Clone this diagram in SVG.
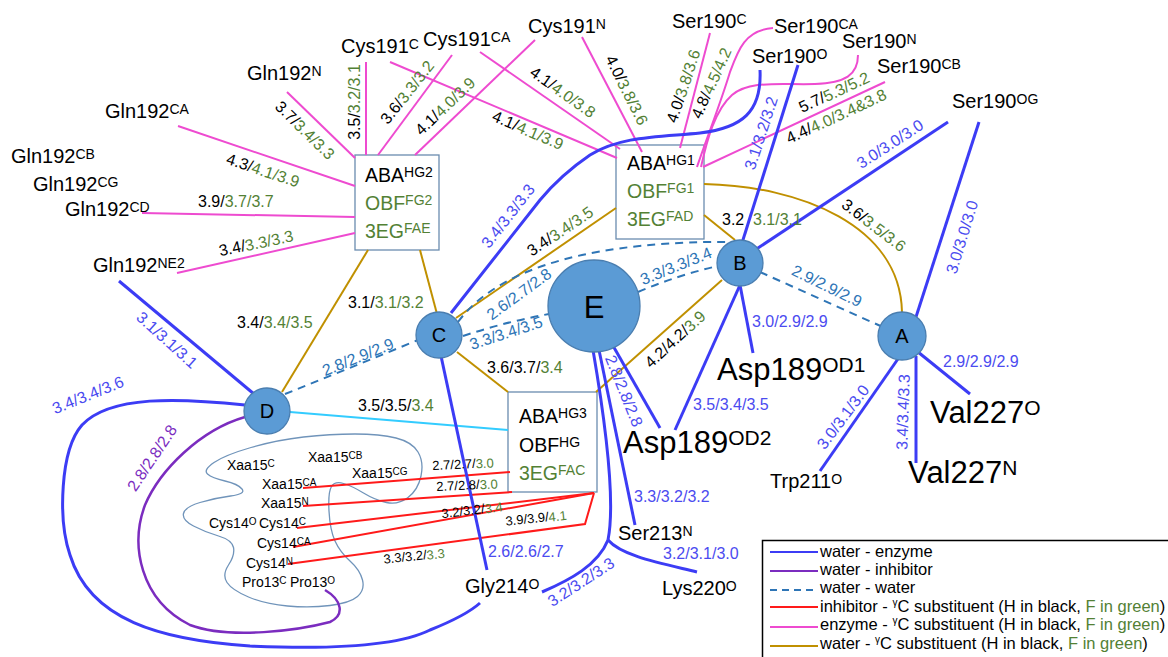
<svg xmlns="http://www.w3.org/2000/svg" width="1168" height="657" viewBox="0 0 1168 657">
<style>
text{font-family:"Liberation Sans",Arial,sans-serif;fill:#000}
.res{font-size:20px}
.big{font-size:31px}
.sm{font-size:14px}
.bx{font-size:19.5px}
.el{font-size:16px}
.es{font-size:13px}
.lg{font-size:16.5px}
.rc{text-anchor:middle;dominant-baseline:central}
.gr{fill:#538135}
.bt{fill:#4B4BF0}
.dt{fill:#2E75B6}
.pt{fill:#7B2CBF}
.m{stroke:#EE4BD0;stroke-width:2;fill:none}
.b{stroke:#3C3CF5;stroke-width:3;fill:none}
.p{stroke:#7B2CBF;stroke-width:2.5;fill:none}
.d{stroke:#2E75B6;stroke-width:2;stroke-dasharray:8 6;fill:none}
.g{stroke:#C09000;stroke-width:2;fill:none}
.cy{stroke:#33CCFF;stroke-width:2;fill:none}
.r{stroke:#FF1A1A;stroke-width:2;fill:none}
.blob{stroke:#7094BA;stroke-width:1.3;fill:none}
.box{fill:#fff;stroke:#6A8CAF;stroke-width:1.3}
.node{fill:#5B9BD5;stroke:#4A7EB0;stroke-width:1.3}
.nl{font-size:20px;text-anchor:middle}
</style>
<rect width="1168" height="657" fill="#fff"/>

<g id="blob">
<path class="blob" d="M207.5,474 Q203,470 214,462.5 Q225,455 251,447.5 Q277,440 303.5,437 Q330,434 355,434 Q380,434 396,438 Q412,442 418,452 Q424,462 421,476 Q418,490 408,497.5 Q398,505 386.5,502.5 Q375,500 363.5,493 Q352,486 343.5,483.5 Q335,481 331.5,486.5 Q328,492 329,511 Q330,530 335,541 Q340,552 350,561 Q360,570 362.5,580 Q365,590 357.5,596.5 Q350,603 330,605.5 Q310,608 287.5,606 Q265,604 248.5,597 Q232,590 227,582.5 Q222,575 228.5,565 Q235,555 233.5,547.5 Q232,540 218.5,536 Q205,532 193.5,526 Q182,520 183.5,513.5 Q185,507 200,502.5 Q215,498 230.5,496 Q246,494 242,489 Q238,484 225,481 Q212,478 207.5,474 Z"/>
</g>

<g id="box-HG2"><rect class="box" x="355" y="155" width="84" height="95"/>
<text class="bx" x="365" y="182">ABA<tspan font-size="14" dy="-5">HG2</tspan></text>
<text class="bx gr" x="365" y="210">OBF<tspan font-size="14" dy="-5">FG2</tspan></text>
<text class="bx gr" x="365" y="238">3EG<tspan font-size="14" dy="-5">FAE</tspan></text></g>
<g id="box-HG1"><rect class="box" x="616" y="145" width="88" height="94"/>
<text class="bx" x="627" y="170">ABA<tspan font-size="14" dy="-5">HG1</tspan></text>
<text class="bx gr" x="627" y="198">OBF<tspan font-size="14" dy="-5">FG1</tspan></text>
<text class="bx gr" x="627" y="226">3EG<tspan font-size="14" dy="-5">FAD</tspan></text></g>
<g id="box-HG3"><rect class="box" x="508" y="392" width="89" height="100"/>
<text class="bx" x="519" y="423">ABA<tspan font-size="14" dy="-5">HG3</tspan></text>
<text class="bx" x="519" y="452">OBF<tspan font-size="14" dy="-5">HG</tspan></text>
<text class="bx gr" x="519" y="480">3EG<tspan font-size="14" dy="-5">FAC</tspan></text></g>

<g id="connectors">
<line class="m" x1="178" y1="126" x2="355" y2="186"/>
<line class="m" x1="287" y1="92" x2="355" y2="158"/>
<line class="m" x1="366" y1="62" x2="366" y2="155"/>
<line class="m" x1="452" y1="55" x2="378" y2="155"/>
<line class="m" x1="535" y1="40" x2="415" y2="155"/>
<line class="m" x1="142" y1="213" x2="355" y2="217"/>
<line class="m" x1="177" y1="273" x2="355" y2="233"/>
<line class="m" x1="390" y1="62" x2="617" y2="158"/>
<line class="m" x1="480" y1="52" x2="620" y2="149"/>
<line class="m" x1="582" y1="37" x2="642" y2="152"/>
<line class="m" x1="710" y1="33" x2="680" y2="148"/>
<path class="m" d="M773,28 C745,30 738,50 730,72 C720,105 706,140 697,167"/>
<path class="m" d="M858,55 C858,75 845,83 815,84 C780,85 750,80 732,95 C715,110 707,140 701,167"/>
<line class="m" x1="885" y1="82" x2="703" y2="167"/>

<line class="g" x1="368" y1="250" x2="282" y2="392"/>
<line class="g" x1="420" y1="250" x2="437" y2="314"/>
<line class="g" x1="456" y1="318" x2="616" y2="208"/>
<line class="g" x1="704" y1="215" x2="735" y2="240"/>
<path class="g" d="M704,184 C800,186 900,225 902,312"/>
<line class="g" x1="457" y1="352" x2="508" y2="392"/>
<line class="g" x1="596" y1="392" x2="722" y2="280"/>

<line class="cy" x1="290" y1="412" x2="508" y2="430"/>

<line class="r" x1="303" y1="488" x2="510" y2="472"/>
<line class="r" x1="303" y1="506" x2="512" y2="492"/>
<line class="r" x1="297" y1="528" x2="594" y2="493"/>
<line class="r" x1="293" y1="547" x2="594" y2="493"/>
<polyline class="r" points="288,564 585,524 594,493"/>

<path class="d" d="M285,394 Q350,368 418,340"/>
<path class="d" d="M458,322 C500,265 600,240 740,242"/>
<path class="d" d="M463,336 Q505,322 549,314"/>
<path class="d" d="M638,292 Q678,275 718,266"/>
<line class="d" x1="760" y1="272" x2="885" y2="328"/>

<path class="p" d="M245,417 C200,430 160,470 145,505 C130,545 140,600 190,625 C230,640 300,630 330,622 C345,615 342,600 325,590"/>

<path class="b" d="M760,70 C762,112 742,128 700,133 C660,137 620,136 590,155 C565,172 550,188 540,200 L451,313"/>
<line class="b" x1="798" y1="65" x2="742" y2="243"/>
<line class="b" x1="948" y1="122" x2="755" y2="250"/>
<line class="b" x1="979" y1="122" x2="915" y2="320"/>
<line class="b" x1="740" y1="285" x2="753" y2="353"/>
<line class="b" x1="740" y1="285" x2="675" y2="430"/>
<line class="b" x1="900" y1="356" x2="820" y2="471"/>
<line class="b" x1="916" y1="356" x2="916" y2="463"/>
<line class="b" x1="918" y1="352" x2="970" y2="394"/>
<line class="b" x1="612" y1="344" x2="660" y2="428"/>
<line class="b" x1="599" y1="350" x2="635" y2="525"/>
<path class="b" d="M593,350 C605,420 616,500 608,540"/>
<path class="b" d="M608,540 C598,565 570,580 542,592"/>
<path class="b" d="M608,540 C622,556 660,563 697,572"/>
<line class="b" x1="441" y1="356" x2="487" y2="570"/>
<line class="b" x1="119" y1="281" x2="254" y2="394"/>
<path class="b" d="M245,405 C180,398 110,395 82,425 C60,450 58,520 70,555 C90,620 160,640 250,646 C340,650 400,645 430,630 C455,620 470,612 480,603"/>
</g>

<g id="edge-labels">
<text class="el rc" x="263" y="170" transform="rotate(18 263 170)">4.3/<tspan class="gr">4.1/3.9</tspan></text>
<text class="el rc" x="305" y="130" transform="rotate(44 305 130)">3.7/<tspan class="gr">3.4/3.3</tspan></text>
<text class="el rc" x="354" y="102" transform="rotate(-90 354 102)">3.5/<tspan class="gr">3.2/3.1</tspan></text>
<text class="el rc" x="407" y="92" transform="rotate(-52 407 92)">3.6/<tspan class="gr">3.3/3.2</tspan></text>
<text class="el rc" x="445" y="106" transform="rotate(-44 445 106)">4.1/<tspan class="gr">4.0/3.9</tspan></text>
<text class="el rc" x="528" y="130" transform="rotate(23 528 130)">4.1/<tspan class="gr">4.1/3.9</tspan></text>
<text class="el rc" x="563" y="92" transform="rotate(35 563 92)">4.1/<tspan class="gr">4.0/3.8</tspan></text>
<text class="el rc" x="627" y="90" transform="rotate(63 627 90)">4.0/<tspan class="gr">3.8/3.6</tspan></text>
<text class="el rc" x="683" y="86" transform="rotate(-72 683 86)">4.0/<tspan class="gr">3.8/3.6</tspan></text>
<text class="el rc" x="711" y="83" transform="rotate(-66 711 83)">4.8/<tspan class="gr">4.5/4.2</tspan></text>
<text class="el rc" x="834" y="92" transform="rotate(-25 834 92)">5.7/<tspan class="gr">5.3/5.2</tspan></text>
<text class="el rc" x="836" y="116" transform="rotate(-25 836 116)">4.4/<tspan class="gr">4.0/3.4&amp;3.8</tspan></text>
<text class="el rc" x="874" y="225" transform="rotate(37 874 225)">3.6/<tspan class="gr">3.5/3.6</tspan></text>
<text class="el rc" x="560" y="231" transform="rotate(-34 560 231)">3.4/<tspan class="gr">3.4/3.5</tspan></text>
<text class="el rc" x="675" y="339" transform="rotate(-43 675 339)">4.2/4.2/<tspan class="gr">3.9</tspan></text>
<text class="el rc" x="256" y="243" transform="rotate(-12 256 243)">3.4/<tspan class="gr">3.3/3.3</tspan></text>
<text class="el" x="198" y="207">3.9/<tspan class="gr">3.7/3.7</tspan></text>
<text class="el" x="237" y="328">3.4/<tspan class="gr">3.4/3.5</tspan></text>
<text class="el" x="348" y="308">3.1/<tspan class="gr">3.1/3.2</tspan></text>
<text class="el" x="487" y="373">3.6/3.7/<tspan class="gr">3.4</tspan></text>
<text class="el" x="358" y="411">3.5/3.5/<tspan class="gr">3.4</tspan></text>
<text class="el" x="722" y="225">3.2<tspan class="gr" x="753">3.1/3.1</tspan></text>

<text class="el rc bt" x="761" y="133" transform="rotate(-72 761 133)">3.1/3.2/3.2</text>
<text class="el rc bt" x="890" y="144" transform="rotate(-33 890 144)">3.0/3.0/3.0</text>
<text class="el rc bt" x="962" y="237" transform="rotate(-73 962 237)">3.0/3.0/3.0</text>
<text class="el rc bt" x="508" y="216" transform="rotate(-52 508 216)">3.4/3.3/3.3</text>
<text class="el rc bt" x="167" y="340" transform="rotate(42 167 340)">3.1/3.1/3.1</text>
<text class="el rc bt" x="88" y="395" transform="rotate(-22 88 395)">3.4/3.4/3.6</text>
<text class="el rc bt" x="624" y="391" transform="rotate(68 624 391)">2.8/2.8/2.8</text>
<text class="el rc bt" x="843" y="417" transform="rotate(-53 843 417)">3.0/3.1/3.0</text>
<text class="el rc bt" x="903" y="412" transform="rotate(-88 903 412)">3.4/3.4/3.3</text>
<text class="el rc bt" x="581" y="582" transform="rotate(-33 581 582)">3.2/3.2/3.3</text>
<text class="el bt" x="752" y="327">3.0/2.9/2.9</text>
<text class="el bt" x="693" y="410">3.5/3.4/3.5</text>
<text class="el bt" x="943" y="367">2.9/2.9/2.9</text>
<text class="el bt" x="634" y="502">3.3/3.2/3.2</text>
<text class="el bt" x="488" y="557">2.6/2.6/2.7</text>
<text class="el bt" x="663" y="559">3.2/3.1/3.0</text>

<text class="el rc dt" x="519" y="294" transform="rotate(-36 519 294)">2.6/2.7/2.8</text>
<text class="el rc dt" x="506" y="333" transform="rotate(-18 506 333)">3.3/3.4/3.5</text>
<text class="el rc dt" x="676" y="266" transform="rotate(-22 676 266)">3.3/3.3/3.4</text>
<text class="el rc dt" x="827" y="286" transform="rotate(26 827 286)">2.9/2.9/2.9</text>
<text class="el rc dt" x="358" y="357" transform="rotate(-22 358 357)">2.8/2.9/2.9</text>
<text class="el rc pt" x="152" y="458" transform="rotate(-56 152 458)">2.8/2.8/2.8</text>

<text class="es rc" x="463" y="464" transform="rotate(-3 463 464)">2.7/2.7/<tspan class="gr">3.0</tspan></text>
<text class="es rc" x="467" y="485" transform="rotate(-3 467 485)">2.7/2.8/<tspan class="gr">3.0</tspan></text>
<text class="es rc" x="472" y="510" transform="rotate(-7 472 510)">3.2/3.2/<tspan class="gr">3.4</tspan></text>
<text class="es rc" x="536" y="518" transform="rotate(-6 536 518)">3.9/3.9/<tspan class="gr">4.1</tspan></text>
<text class="es rc" x="414" y="556" transform="rotate(-6 414 556)">3.3/3.2/<tspan class="gr">3.3</tspan></text>
</g>

<g id="node-E"><circle class="node" cx="594" cy="306" r="46"/><text x="594" y="318" font-size="31" text-anchor="middle">E</text></g>
<g id="node-B"><circle class="node" cx="740" cy="263" r="23"/><text class="nl" x="740" y="270">B</text></g>
<g id="node-A"><circle class="node" cx="902" cy="336" r="24"/><text class="nl" x="902" y="343">A</text></g>
<g id="node-C"><circle class="node" cx="439" cy="335" r="23"/><text class="nl" x="439" y="342">C</text></g>
<g id="node-D"><circle class="node" cx="267" cy="411" r="23"/><text class="nl" x="267" y="418">D</text></g>

<g id="res-Cys191C"><text class="res" x="341" y="53">Cys191<tspan font-size="14" dy="-4.5">C</tspan></text></g>
<g id="res-Cys191CA"><text class="res" x="423" y="46">Cys191<tspan font-size="14" dy="-4.5">CA</tspan></text></g>
<g id="res-Cys191N"><text class="res" x="528" y="33">Cys191<tspan font-size="14" dy="-4.5">N</tspan></text></g>
<g id="res-Gln192N"><text class="res" x="247" y="80">Gln192<tspan font-size="14" dy="-4.5">N</tspan></text></g>
<g id="res-Gln192CA"><text class="res" x="105" y="118">Gln192<tspan font-size="14" dy="-4.5">CA</tspan></text></g>
<g id="res-Gln192CB"><text class="res" x="11" y="163">Gln192<tspan font-size="14" dy="-4.5">CB</tspan></text></g>
<g id="res-Gln192CG"><text class="res" x="33" y="191">Gln192<tspan font-size="14" dy="-4.5">CG</tspan></text></g>
<g id="res-Gln192CD"><text class="res" x="65" y="216">Gln192<tspan font-size="14" dy="-4.5">CD</tspan></text></g>
<g id="res-Gln192NE2"><text class="res" x="93" y="272">Gln192<tspan font-size="14" dy="-4.5">NE2</tspan></text></g>
<g id="res-Ser190C"><text class="res" x="672" y="28">Ser190<tspan font-size="14" dy="-4.5">C</tspan></text></g>
<g id="res-Ser190CA"><text class="res" x="774" y="33">Ser190<tspan font-size="14" dy="-4.5">CA</tspan></text></g>
<g id="res-Ser190N"><text class="res" x="842" y="48">Ser190<tspan font-size="14" dy="-4.5">N</tspan></text></g>
<g id="res-Ser190O"><text class="res" x="752" y="63">Ser190<tspan font-size="14" dy="-4.5">O</tspan></text></g>
<g id="res-Ser190CB"><text class="res" x="877" y="73">Ser190<tspan font-size="14" dy="-4.5">CB</tspan></text></g>
<g id="res-Ser190OG"><text class="res" x="952" y="108">Ser190<tspan font-size="14" dy="-4.5">OG</tspan></text></g>
<g id="res-Trp211O"><text class="res" x="770" y="488">Trp211<tspan font-size="14" dy="-4.5">O</tspan></text></g>
<g id="res-Ser213N"><text class="res" x="618" y="540">Ser213<tspan font-size="14" dy="-4.5">N</tspan></text></g>
<g id="res-Lys220O"><text class="res" x="662" y="595">Lys220<tspan font-size="14" dy="-4.5">O</tspan></text></g>
<g id="res-Gly214O"><text class="res" x="465" y="593">Gly214<tspan font-size="14" dy="-4.5">O</tspan></text></g>
<g id="res-Asp189OD1"><text class="big" x="717" y="380">Asp189<tspan font-size="21" dy="-8">OD1</tspan></text></g>
<g id="res-Asp189OD2"><text class="big" x="623" y="453">Asp189<tspan font-size="21" dy="-8">OD2</tspan></text></g>
<g id="res-Val227O"><text class="big" x="930" y="423">Val227<tspan font-size="21" dy="-8">O</tspan></text></g>
<g id="res-Val227N"><text class="big" x="908" y="483">Val227<tspan font-size="21" dy="-8">N</tspan></text></g>

<g id="inhibitor-atoms">
<text class="sm" x="227" y="470">Xaa15<tspan font-size="10" dy="-3.5">C</tspan></text>
<text class="sm" x="308" y="462">Xaa15<tspan font-size="10" dy="-3.5">CB</tspan></text>
<text class="sm" x="352" y="478">Xaa15<tspan font-size="10" dy="-3.5">CG</tspan></text>
<text class="sm" x="262" y="489">Xaa15<tspan font-size="10" dy="-3.5">CA</tspan></text>
<text class="sm" x="261" y="508">Xaa15<tspan font-size="10" dy="-3.5">N</tspan></text>
<text class="sm" x="209" y="528">Cys14<tspan font-size="10" dy="-3.5">O</tspan></text>
<text class="sm" x="259" y="528">Cys14<tspan font-size="10" dy="-3.5">C</tspan></text>
<text class="sm" x="257" y="548">Cys14<tspan font-size="10" dy="-3.5">CA</tspan></text>
<text class="sm" x="246" y="568">Cys14<tspan font-size="10" dy="-3.5">N</tspan></text>
<text class="sm" x="242" y="587">Pro13<tspan font-size="10" dy="-3.5">C</tspan></text>
<text class="sm" x="290" y="587">Pro13<tspan font-size="10" dy="-3.5">O</tspan></text>
</g>

<g id="legend">
<rect x="762.5" y="540.5" width="500" height="200" fill="#fff" stroke="#000" stroke-width="1.5"/>
<line x1="770" y1="552" x2="818" y2="552" stroke="#3C3CF5" stroke-width="2"/>
<line x1="770" y1="571" x2="818" y2="571" stroke="#7B2CBF" stroke-width="2"/>
<line x1="770" y1="590" x2="818" y2="590" stroke="#2E75B6" stroke-width="2" stroke-dasharray="7 5"/>
<line x1="770" y1="607" x2="818" y2="607" stroke="#FF1A1A" stroke-width="2"/>
<line x1="770" y1="627" x2="818" y2="627" stroke="#EE4BD0" stroke-width="2"/>
<line x1="770" y1="646" x2="818" y2="646" stroke="#C09000" stroke-width="2"/>
<text class="lg" x="820" y="557">water - enzyme</text>
<text class="lg" x="820" y="575">water - inhibitor</text>
<text class="lg" x="820" y="593">water - water</text>
<text class="lg" x="820" y="612">inhibitor - <tspan font-size="10" dy="-6">γ</tspan><tspan dy="6">C substituent (H in black, </tspan><tspan class="gr">F in green</tspan>)</text>
<text class="lg" x="820" y="630">enzyme - <tspan font-size="10" dy="-6">γ</tspan><tspan dy="6">C substituent (H in black, </tspan><tspan class="gr">F in green</tspan>)</text>
<text class="lg" x="820" y="649">water - <tspan font-size="10" dy="-6">γ</tspan><tspan dy="6">C substituent (H in black, </tspan><tspan class="gr">F in green</tspan>)</text>
</g>
</svg>
